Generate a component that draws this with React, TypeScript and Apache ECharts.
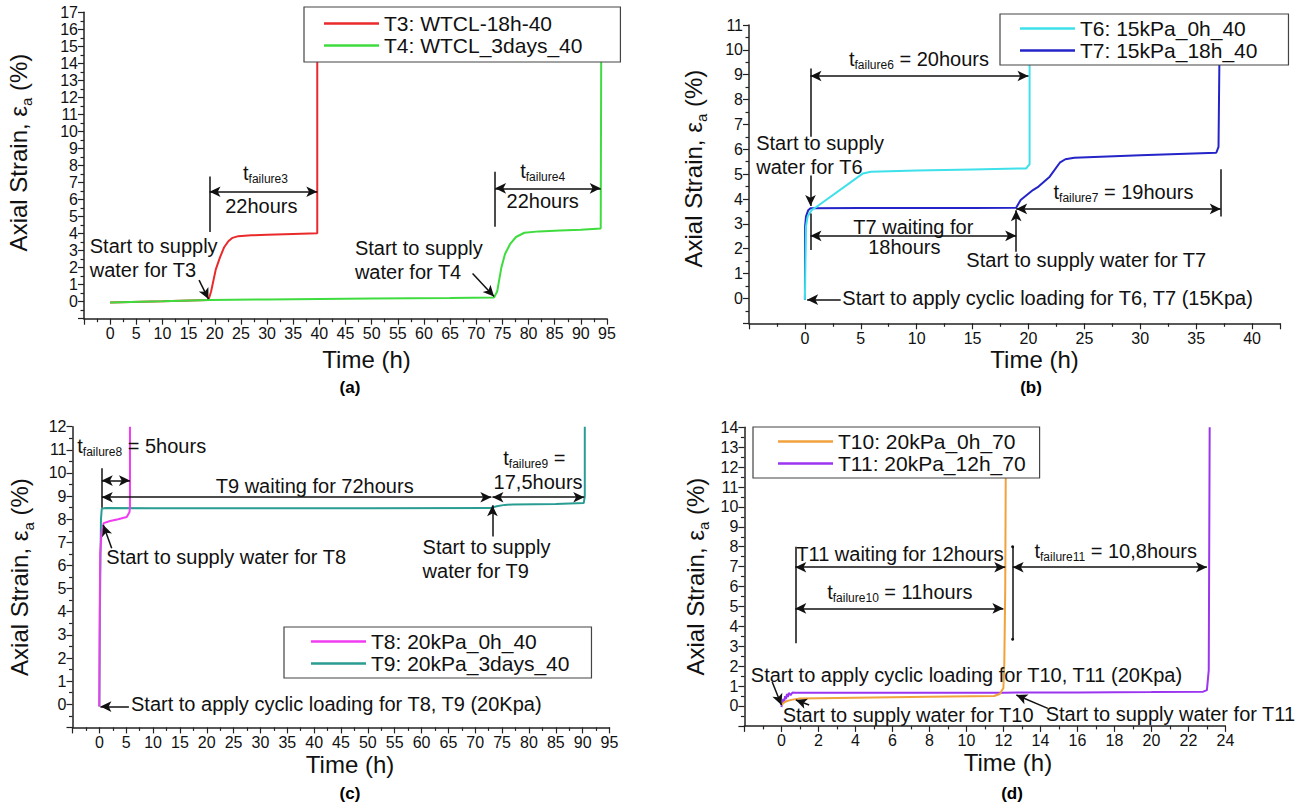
import React, { useEffect, useRef } from "react";
import * as echarts from "echarts";

const FONT = '"Liberation Sans", Arial, Helvetica, sans-serif';
const INK = "#111111";

// ---------- data (time in h, axial strain in %) ----------
// (a)
const T3_TIME = [0, 10, 18.8, 19.3, 20.2, 21, 21.8, 22.6, 23.4, 24.5, 27, 30, 35, 39.6, 39.6];
const T3_STRAIN = [-0.05, 0.02, 0.1, 0.6, 1.9, 2.6, 3.2, 3.55, 3.75, 3.85, 3.9, 3.93, 3.98, 4.02, 15.5];
const T4_TIME = [0, 10, 19, 30, 50, 65, 73.4, 74, 74.8, 75.5, 76.5, 77.6, 79.2, 82, 86, 90, 93.8, 93.9];
const T4_STRAIN = [-0.05, 0.02, 0.1, 0.13, 0.18, 0.22, 0.25, 0.6, 2.0, 2.8, 3.4, 3.8, 4.05, 4.13, 4.18, 4.22, 4.3, 15.5];
// (b)
const T6_TIME = [0, 0.05, 0.1, 0.25, 0.6, 1.05, 5.2, 5.9, 10, 15, 19.8, 20.1, 20.1];
const T6_STRAIN = [-0.05, 1.5, 2.9, 3.3, 3.55, 3.69, 5.03, 5.1, 5.15, 5.19, 5.23, 5.4, 10.5];
const T7_TIME = [0, 0.02, 0.1, 0.3, 0.5, 5, 10, 15, 18.9, 19.3, 20.4, 20.9, 21.9, 22.8, 23.3, 24.1, 30, 36.8, 37.0, 37.1];
const T7_STRAIN = [-0.05, 2.9, 3.3, 3.55, 3.63, 3.64, 3.64, 3.64, 3.65, 3.96, 4.36, 4.5, 4.9, 5.46, 5.6, 5.66, 5.76, 5.86, 6.1, 10.5];
// (c)
const T8_TIME = [0, 0.05, 0.15, 0.4, 0.8, 2, 3.5, 5.1, 5.6, 5.7, 5.7];
const T8_STRAIN = [-0.1, 3, 6.5, 7.4, 7.83, 7.92, 8.0, 8.1, 8.3, 8.5, 12];
const T9_TIME = [0, 0.1, 0.3, 0.45, 1, 10, 30, 50, 72.8, 74, 75.5, 77, 85, 90.2, 90.4, 90.4];
const T9_STRAIN = [-0.1, 4, 8.0, 8.45, 8.48, 8.47, 8.47, 8.47, 8.48, 8.56, 8.62, 8.64, 8.66, 8.7, 9.0, 12];
// (d)
const T10_TIME = [0, 0.15, 0.3, 0.6, 1, 4, 8, 11.5, 11.8, 12.0, 12.05, 12.1, 12.13];
const T10_STRAIN = [0.05, 0.18, 0.25, 0.32, 0.38, 0.42, 0.46, 0.5, 0.6, 0.9, 2.2, 6, 12.5];
const T11_TIME = [0, 0.1, 0.15, 0.2, 0.25, 0.3, 0.35, 0.4, 0.5, 0.6, 0.7, 3, 8, 12, 16, 20, 22.8, 23.0, 23.1, 23.15];
const T11_STRAIN = [-0.05, 0.35, 0.2, 0.5, 0.35, 0.6, 0.45, 0.65, 0.55, 0.68, 0.67, 0.67, 0.67, 0.67, 0.68, 0.7, 0.72, 0.8, 1.8, 14];

const SERIES_NAMES = [
  ["T3: WTCL-18h-40", "T4: WTCL_3days_40"],
  ["T6: 15kPa_0h_40", "T7: 15kPa_18h_40"],
  ["T8: 20kPa_0h_40", "T9: 20kPa_3days_40"],
  ["T10: 20kPa_0h_70", "T11: 20kPa_12h_70"],
];
const PANEL_LABELS = ["(a)", "(b)", "(c)", "(d)"];

const zip = (t: number[], s: number[]) => t.map((v, i) => [v, s[i]]);

type Line = [number, number, number, number, string, string];
type Txt = [number, number, string, "l" | "c"];

const rich = {
  m: { fontSize: 20, fontFamily: FONT, color: INK, lineHeight: 22, verticalAlign: "top" },
  s: { fontSize: 12, fontFamily: FONT, color: INK, lineHeight: 14, verticalAlign: "bottom", padding: [10, 0, 0, 0] },
};
const tsub = (sub: string, rest: string) => `{m|t}{s|${sub}}` + (rest ? `{m|${rest}}` : "");

const panels = [
  {
    grid: { left: 84, top: 12.3, width: 523, height: 306.4 },
    x: { min: -5, max: 95, interval: 5 },
    y: { min: -1, max: 17, interval: 1 },
    series: [
      { name: SERIES_NAMES[0][0], color: "#ea2a2a", data: zip(T3_TIME, T3_STRAIN) },
      { name: SERIES_NAMES[0][1], color: "#3fdc3f", data: zip(T4_TIME, T4_STRAIN) },
    ],
    legend: { left: 304, top: 7, padding: [6, 38, 6, 20] },
    xName: { gap: 29, pad: 42 },
    yName: { gap: 50, pad: 26 },
    label: [350, 387],
    lines: [
      [19, 4.1, 19, 7.35, "none", "none"],
      [19, 6.46, 39.6, 6.46, "arrow", "arrow"],
      [73.6, 4.4, 73.6, 7.64, "none", "none"],
      [73.6, 6.66, 93.8, 6.66, "arrow", "arrow"],
      [17, 1.27, 18.8, 0.15, "none", "arrow"],
      [69.3, 1.66, 73.4, 0.3, "none", "arrow"],
    ] as Line[],
    texts: [
      [29.7, 7.5, tsub("failure3", ""), "c"],
      [28.9, 5.6, "22hours", "c"],
      [-4, 2.58, "Start to supply\nwater for T3", "l"],
      [82.7, 7.6, tsub("failure4", ""), "c"],
      [82.7, 5.9, "22hours", "c"],
      [46.7, 2.43, "Start to supply\nwater for T4", "l"],
    ] as Txt[],
  },
  {
    grid: { left: 749, top: 25, width: 531, height: 298.3 },
    x: { min: -5, max: 42.5, interval: 5 },
    y: { min: -1, max: 11, interval: 1 },
    series: [
      { name: SERIES_NAMES[1][1], color: "#2424c8", data: zip(T7_TIME, T7_STRAIN) },
      { name: SERIES_NAMES[1][0], color: "#3ee0ea", data: zip(T6_TIME, T6_STRAIN) },
    ],
    legend: { left: 1000, top: 14, padding: [4, 31, 4, 20] },
    xName: { gap: 24, pad: 40 },
    yName: { gap: 40, pad: 11 },
    label: [1031, 387],
    lines: [
      [0.5, 6.5, 0.5, 9.25, "none", "none"],
      [0.5, 8.95, 20.0, 8.95, "arrow", "arrow"],
      [0.5, 4.95, 0.5, 3.72, "none", "arrow"],
      [0.5, 1.95, 0.5, 3.42, "none", "none"],
      [0.5, 2.52, 18.9, 2.52, "arrow", "arrow"],
      [18.9, 1.88, 18.9, 3.55, "none", "arrow"],
      [18.9, 3.6, 37.2, 3.6, "arrow", "arrow"],
      [37.2, 3.3, 37.2, 5.2, "none", "none"],
      [3.2, -0.05, 0.2, -0.05, "none", "arrow"],
    ] as Line[],
    texts: [
      [10.2, 9.6, tsub("failure6", " = 20hours"), "c"],
      [-4.4, 5.77, "Start to supply\nwater for T6", "l"],
      [9.7, 2.88, "T7 waiting for", "c"],
      [8.9, 2.08, "18hours", "c"],
      [14.4, 1.54, "Start to supply water for T7", "l"],
      [28.5, 4.25, tsub("failure7", " = 19hours"), "c"],
      [3.3, 0, "Start to apply cyclic loading for T6, T7 (15Kpa)", "l"],
    ] as Txt[],
  },
  {
    grid: { left: 72.5, top: 426.7, width: 537, height: 300.7 },
    x: { min: -5, max: 95, interval: 5 },
    y: { min: -1, max: 12, interval: 1 },
    series: [
      { name: SERIES_NAMES[2][1], color: "#2a9d93", data: zip(T9_TIME, T9_STRAIN) },
      { name: SERIES_NAMES[2][0], color: "#f03cf0", data: zip(T8_TIME, T8_STRAIN) },
    ],
    legend: { left: 284, top: 627, padding: [4, 22, 4, 27] },
    xName: { gap: 25, pad: 18 },
    yName: { gap: 37, pad: 0 },
    label: [350, 793],
    lines: [
      [0.45, 8.5, 0.45, 10.2, "none", "none"],
      [0.45, 9.67, 5.7, 9.67, "arrow", "arrow"],
      [0.45, 8.95, 73.0, 8.95, "arrow", "arrow"],
      [73.2, 8.95, 90.3, 8.95, "arrow", "arrow"],
      [73.2, 7.25, 73.2, 8.6, "none", "arrow"],
      [2.3, 6.74, 0.73, 7.75, "none", "arrow"],
      [5.5, -0.1, 0.2, -0.1, "none", "arrow"],
    ] as Line[],
    texts: [
      [-4.2, 11.14, tsub("failure8", " = 5hours"), "l"],
      [40.1, 9.44, "T9 waiting for 72hours", "c"],
      [81, 10.6, tsub("failure9", " ="), "c"],
      [81.7, 9.6, "17,5hours", "c"],
      [60.1, 6.3, "Start to supply\nwater for T9", "l"],
      [1.2, 6.38, "Start to supply water for T8", "l"],
      [5.8, 0, "Start to apply cyclic loading for T8, T9 (20Kpa)", "l"],
    ] as Txt[],
  },
  {
    grid: { left: 744.4, top: 427.3, width: 481, height: 298.6 },
    x: { min: -2, max: 24, interval: 2 },
    y: { min: -1, max: 14, interval: 1 },
    series: [
      { name: SERIES_NAMES[3][1], color: "#9a35f0", data: zip(T11_TIME, T11_STRAIN) },
      { name: SERIES_NAMES[3][0], color: "#f0a23c", data: zip(T10_TIME, T10_STRAIN) },
    ],
    legend: { left: 753, top: 427, padding: [4, 14, 4, 25] },
    xName: { gap: 25, pad: 46 },
    yName: { gap: 33, pad: 0 },
    label: [1012, 793],
    lines: [
      [0.75, 3.15, 0.75, 8.0, "none", "none"],
      [0.75, 6.97, 12.1, 6.97, "arrow", "arrow"],
      [0.75, 4.9, 12.0, 4.9, "arrow", "arrow"],
      [12.5, 3.35, 12.5, 8.0, "circle", "circle"],
      [12.5, 6.97, 23.0, 6.97, "arrow", "arrow"],
      [-0.5, 1.22, 0, 0.05, "none", "arrow"],
      [1.5, 0.05, 0.78, 0.3, "none", "arrow"],
      [14.4, -0.12, 12.7, 0.55, "none", "arrow"],
    ] as Line[],
    texts: [
      [0.78, 7.64, "T11 waiting for 12hours", "l"],
      [6.4, 5.66, tsub("failure10", " = 11hours"), "c"],
      [18.07, 7.75, tsub("failure11", " = 10,8hours"), "c"],
      [-1.68, 1.56, "Start to apply cyclic loading for T10, T11 (20Kpa)", "l"],
      [0.04, -0.45, "Start to supply water for T10", "l"],
      [14.26, -0.4, "Start to supply water for T11", "l"],
    ] as Txt[],
  },
];

function buildOption() {
  const grid: any[] = [];
  const xAxis: any[] = [];
  const yAxis: any[] = [];
  const series: any[] = [];
  const legend: any[] = [];
  const graphic: any[] = [];

  panels.forEach((p, i) => {
    grid.push({ ...p.grid, containLabel: false });
    const tickStyle = { color: "#222", width: 1.2 };
    xAxis.push({
      gridIndex: i,
      type: "value",
      min: p.x.min,
      max: p.x.max,
      interval: p.x.interval,
      name: "Time (h)",
      nameLocation: "middle",
      nameGap: p.xName.gap,
      nameTextStyle: { fontFamily: FONT, fontSize: 24, color: INK, padding: [0, 0, 0, p.xName.pad] },
      axisLine: { show: true, onZero: false, lineStyle: { color: "#222", width: 1.5 } },
      axisTick: { show: true, inside: false, length: 6, lineStyle: tickStyle },
      minorTick: { show: true, splitNumber: 2, length: 3.5, lineStyle: tickStyle },
      splitLine: { show: false },
      axisLabel: {
        interval: 0,
        margin: 7,
        fontFamily: FONT,
        fontSize: 16,
        color: INK,
        formatter: (v: number) => (v < 0 || Math.abs(v % p.x.interval) > 1e-6 ? "" : String(v)),
      },
    });
    yAxis.push({
      gridIndex: i,
      type: "value",
      min: p.y.min,
      max: p.y.max,
      interval: p.y.interval,
      name: "{n|Axial Strain, ε}{s|a}{n| (%)}",
      nameLocation: "middle",
      nameGap: p.yName.gap,
      nameTextStyle: {
        fontFamily: FONT,
        fontSize: 24,
        color: INK,
        padding: [0, 0, 0, p.yName.pad],
        rich: {
          n: { fontFamily: FONT, fontSize: 24, color: INK, lineHeight: 28, verticalAlign: "top" },
          s: { fontFamily: FONT, fontSize: 15, color: INK, lineHeight: 16, verticalAlign: "bottom", padding: [14, 0, 0, 0] },
        },
      },
      axisLine: { show: true, onZero: false, lineStyle: { color: "#222", width: 1.5 } },
      axisTick: { show: true, inside: false, length: 6, lineStyle: tickStyle },
      minorTick: { show: true, splitNumber: 2, length: 3.5, lineStyle: tickStyle },
      splitLine: { show: false },
      axisLabel: {
        interval: 0,
        margin: 6,
        fontFamily: FONT,
        fontSize: 16,
        color: INK,
        formatter: (v: number) => (v < 0 ? "" : String(v)),
      },
    });

    p.series.forEach((s) => {
      series.push({
        type: "line",
        name: s.name,
        xAxisIndex: i,
        yAxisIndex: i,
        data: s.data,
        symbol: "none",
        showSymbol: false,
        color: s.color,
        lineStyle: { color: s.color, width: 2 },
        z: 2,
        silent: true,
      });
    });

    // annotations (arrows, dimension lines, texts) in data coordinates
    series.push({
      type: "line",
      xAxisIndex: i,
      yAxisIndex: i,
      data: [],
      clip: false,
      silent: true,
      z: 3,
      markLine: {
        silent: true,
        animation: false,
        symbol: ["none", "none"],
        symbolSize: [8, 11],
        label: { show: false },
        emphasis: { disabled: true },
        lineStyle: { color: INK, width: 1.5, type: "solid" },
        data: p.lines.map((l) => [
          { coord: [l[0], l[1]], symbol: l[4], symbolSize: l[4] === "circle" ? 3 : [8, 11] },
          { coord: [l[2], l[3]], symbol: l[5], symbolSize: l[5] === "circle" ? 3 : [8, 11] },
        ]),
      },
      markPoint: {
        silent: true,
        animation: false,
        symbol: "circle",
        symbolSize: 1,
        itemStyle: { color: "rgba(0,0,0,0)" },
        label: {
          show: true,
          color: INK,
          fontFamily: FONT,
          fontSize: 20,
          lineHeight: 24,
          rich,
        },
        data: p.texts.map((t) => ({
          coord: [t[0], t[1]],
          label: {
            formatter: () => t[2],
            position: t[3] === "l" ? "right" : "inside",
            distance: 0,
          },
        })),
      },
    });

    legend.push({
      data: p.series.map((s) => s.name).sort(),
      orient: "vertical",
      left: p.legend.left,
      top: p.legend.top,
      padding: p.legend.padding,
      itemGap: 1,
      itemWidth: 55,
      itemHeight: 2.5,
      icon: "rect",
      backgroundColor: "#ffffff",
      borderColor: "#444",
      borderWidth: 1.2,
      selectedMode: false,
      z: 10,
      textStyle: { fontFamily: FONT, fontSize: 21, color: INK },
    });

    graphic.push({
      type: "text",
      x: p.label[0],
      y: p.label[1],
      style: {
        text: PANEL_LABELS[i],
        fontFamily: FONT,
        fontSize: 17,
        fontWeight: "bold",
        fill: "#000",
        textAlign: "center",
        textVerticalAlign: "middle",
      },
    });
  });

  return {
    animation: false,
    backgroundColor: "#ffffff",
    textStyle: { fontFamily: FONT },
    grid,
    xAxis,
    yAxis,
    series,
    legend,
    graphic,
  };
}

export default function App() {
  const ref = useRef<HTMLDivElement>(null);
  useEffect(() => {
    const chart = echarts.init(ref.current!, null, { renderer: "svg" });
    chart.setOption(buildOption() as any);
    return () => chart.dispose();
  }, []);
  return (
    <div
      ref={ref}
      style={{ position: "fixed", left: 0, top: 0, width: 1301, height: 809, background: "#fff" }}
    />
  );
}
